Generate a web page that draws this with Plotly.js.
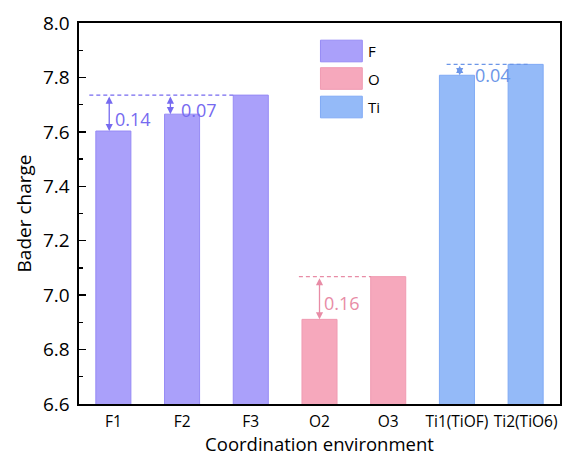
<!DOCTYPE html>
<html>
<head>
<meta charset="utf-8">
<script src="https://cdn.plot.ly/plotly-3.0.1.min.js"></script>
<style>html,body{margin:0;padding:0;background:#fff;}#chart{width:563px;height:456px;}</style>
</head>
<body>
<div id="chart"></div>
<script>
// ---- data ----
const categories = ["F1", "F2", "F3", "O2", "O3", "Ti1(TiOF)", "Ti2(TiO6)"];
const groups = ["F", "F", "F", "O", "O", "Ti", "Ti"];
const baderCharge = [7.603, 7.665, 7.735, 6.911, 7.068, 7.808, 7.848];
const seriesNames = ["F", "O", "Ti"];
const diffLabels = ["0.14", "0.07", null, "0.16", null, "0.04", null];

// ---- styles ----
const fillColors = {F: "rgb(170,160,250)", O: "rgb(246,168,188)", Ti: "rgb(148,186,248)"};
const edgeColors = {F: "rgb(150,138,245)", O: "rgb(240,155,178)", Ti: "rgb(128,170,245)"};
const annColors = {F: "rgb(118,106,240)", O: "rgb(232,140,166)", Ti: "rgb(108,150,232)"};
const font = "Open Sans, Noto Sans, sans-serif";

const traces = seriesNames.map(g => {
  const xs = [], ys = [];
  categories.forEach((c, i) => { if (groups[i] === g) { xs.push(i); ys.push(baderCharge[i]); } });
  return {
    type: "bar", name: g, x: xs, y: ys, width: 0.51,
    marker: {color: fillColors[g], line: {color: edgeColors[g], width: 1}},
    showlegend: false, hoverinfo: "x+y"
  };
});

const shapes = [];
const annotations = [];

// reference dashed lines & arrows per group
const lineSpec = {F: {x0off: -0.35, x1: 1.76}, O: {x0off: -0.3, x1: 3.75}, Ti: {x0off: -0.15, x1: 6.03}};
const arrowOff = [-0.06, -0.17, 0, 0, 0, 0.04, 0];
const textOff = [0.06, 0.12, 0, 0.035, 0, 0.2, 0];
seriesNames.forEach(g => {
  const idx = categories.map((c, i) => i).filter(i => groups[i] === g);
  const ref = Math.max(...idx.map(i => baderCharge[i]));
  shapes.push({type: "line", xref: "x", yref: "y", x0: idx[0] + lineSpec[g].x0off, x1: lineSpec[g].x1,
    y0: ref, y1: ref, line: {color: annColors[g], width: 1.3, dash: "4px,3px"}});
  idx.forEach(i => {
    if (diffLabels[i] === null) return;
    const xa = i + arrowOff[i];
    annotations.push({x: xa, y: baderCharge[i], ax: xa, ay: ref, xref: "x", yref: "y", axref: "x", ayref: "y",
      text: "", showarrow: true, arrowhead: 2, arrowside: "end+start", arrowsize: 1.1, arrowwidth: 1.3,
      arrowcolor: annColors[g], startstandoff: 0, standoff: 0});
    annotations.push({x: xa + textOff[i], y: (baderCharge[i] + ref) / 2 - 0.02, xref: "x", yref: "y",
      text: diffLabels[i], showarrow: false, xanchor: "left", yanchor: "middle",
      font: {family: font, size: 18, color: annColors[g]}});
  });
});

// legend drawn manually
const legendY = [0.9265, 0.8543, 0.7795];
seriesNames.forEach((g, k) => {
  shapes.push({type: "rect", xref: "paper", yref: "paper", x0: 0.502, x1: 0.589,
    y0: legendY[k] - 0.0284, y1: legendY[k] + 0.0284,
    fillcolor: fillColors[g], line: {color: edgeColors[g], width: 1}});
  annotations.push({xref: "paper", yref: "paper", x: 0.596, y: legendY[k], text: g, showarrow: false,
    xanchor: "left", yanchor: "middle", font: {family: font, size: 15, color: "#000"}});
});

const layout = {
  width: 563, height: 456,
  margin: {l: 79, r: 3, t: 23, b: 52},
  paper_bgcolor: "#fff", plot_bgcolor: "#fff",
  bargap: 0.49,
  showlegend: false,
  xaxis: {
    range: [-0.5, 6.5], tickmode: "array", tickvals: categories.map((c, i) => i), ticktext: categories,
    showline: true, linecolor: "#000", linewidth: 1.6, mirror: true, ticks: "", showgrid: false, zeroline: false,
    ticklabelstandoff: 3,
    tickfont: {family: font, size: 15.5, color: "#000"},
    title: {text: "Coordination environment", font: {family: font, size: 18.5, color: "#000"}, standoff: 9}
  },
  yaxis: {
    range: [6.6, 8.0], dtick: 0.2, tickformat: ".1f",
    showline: true, linecolor: "#000", linewidth: 1.6, mirror: true,
    ticks: "inside", ticklen: 7, tickwidth: 1.4, tickcolor: "#000",
    minor: {ticks: "inside", ticklen: 4, tickwidth: 1.2, dtick: 0.1, tickcolor: "#000", showgrid: false},
    showgrid: false, zeroline: false,
    ticklabelstandoff: 4,
    tickfont: {family: font, size: 19, color: "#000"},
    title: {text: "Bader charge", font: {family: font, size: 19, color: "#000"}, standoff: 6}
  },
  shapes: shapes,
  annotations: annotations
};

Plotly.newPlot("chart", traces, layout, {displayModeBar: false, staticPlot: true});
</script>
</body>
</html>
